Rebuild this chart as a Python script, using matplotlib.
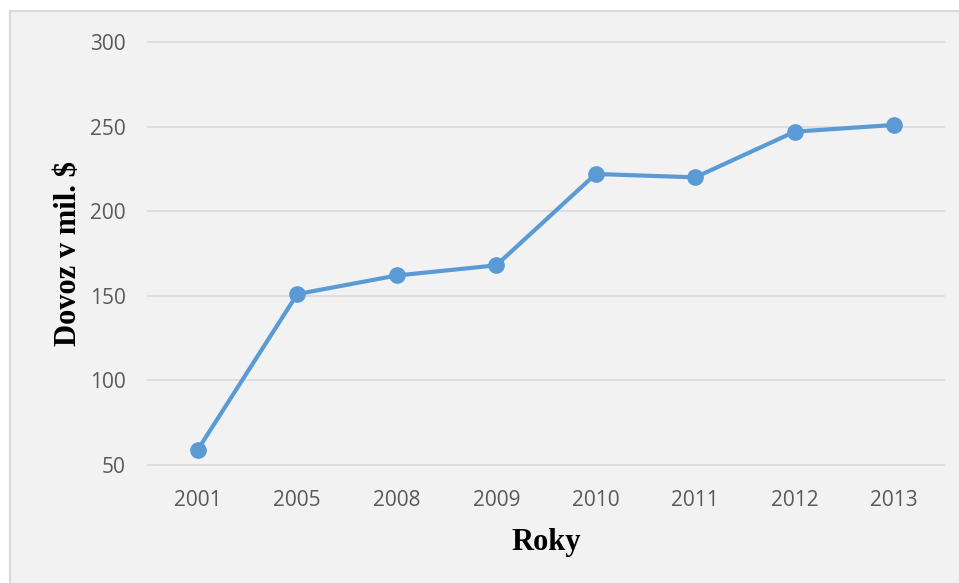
import matplotlib.pyplot as plt
from matplotlib.patches import Rectangle

years = ["2001", "2005", "2008", "2009", "2010", "2011", "2012", "2013"]
dovoz = [59, 151, 162, 168, 222, 220, 247, 251]
yticks = [50, 100, 150, 200, 250, 300]

fig = plt.figure(figsize=(9.59, 5.83), dpi=100)
fig.patch.set_facecolor("white")

# gray chart area with thin border, behind the axes
bg = Rectangle((10/959, -0.01), 1, 1 - 11/583 + 0.01, transform=fig.transFigure,
               facecolor="#f2f2f2", edgecolor="#d9d9d9", linewidth=1.5, zorder=-10)
fig.add_artist(bg)

ax = fig.add_axes([148/959, 1 - 465/583, (944 - 148)/959, (465 - 42)/583])
ax.set_zorder(5)
ax.set_facecolor("none")

x = list(range(len(years)))
ax.plot(x, dovoz, color="#5b9bd5", linewidth=3, marker="o", markersize=11,
        solid_capstyle="round", zorder=3)

ax.set_xlim(-0.5, len(years) - 0.5)
ax.set_ylim(50, 300)
ax.set_yticks(yticks)
ax.set_xticks(x)
ax.set_xticklabels(years)
ax.grid(axis="y", color="#d9d9d9", linewidth=1.2)
for gl in ax.get_ygridlines():
    gl.set_clip_on(False)
ax.set_axisbelow(True)
for s in ax.spines.values():
    s.set_visible(False)
ax.tick_params(length=0, labelsize=15, labelcolor="#595959", pad=18)
ax.tick_params(axis="y", pad=16)
for lab in ax.get_xticklabels() + ax.get_yticklabels():
    lab.set_family("Open Sans")

ax.set_xlabel("Roky", fontsize=22, fontweight="bold", family="Liberation Serif", labelpad=12)
ax.set_ylabel("Dovoz v mil. $", fontsize=22, fontweight="bold", family="Liberation Serif", labelpad=5)

fig.savefig("out.png", dpi=100)
